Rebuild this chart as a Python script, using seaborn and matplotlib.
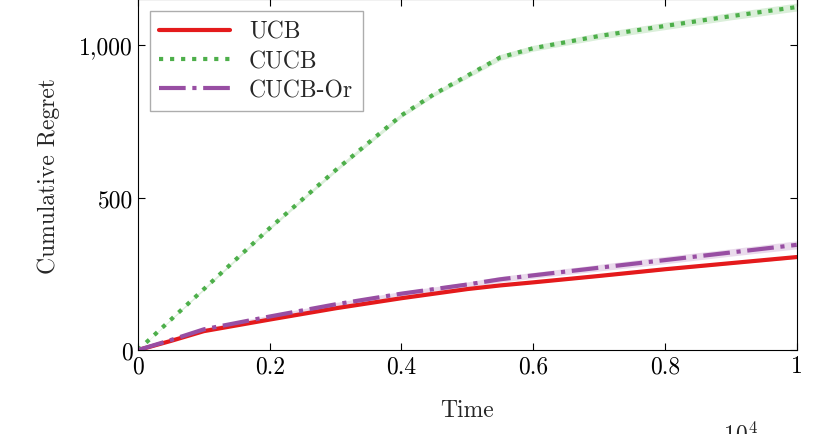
import numpy as np
import pandas as pd
import matplotlib
matplotlib.use("Agg")
import matplotlib.pyplot as plt
import seaborn as sns
from matplotlib.ticker import FuncFormatter

sns.set_style("ticks")
plt.rcParams['font.family'] = ['cmr10', 'DejaVu Serif']
plt.rcParams['mathtext.fontset'] = 'cm'
plt.rcParams['axes.formatter.use_mathtext'] = True

time = [0, 0.05, 0.1, 0.2, 0.3, 0.4, 0.45, 0.5, 0.55, 0.6, 0.7, 0.8, 0.9, 1.0]
ucb = [0, 30, 62, 100, 137, 170, 185, 200, 212, 222, 243, 265, 285, 305]
cucb = [0, 100, 200, 400, 590, 770, 840, 900, 960, 990, 1030, 1063, 1095, 1125]
cucb_or = [0, 33, 68, 110, 150, 185, 200, 215, 232, 245, 270, 295, 320, 345]
band = [0, 2, 3, 4, 5, 6, 6, 7, 8, 8, 9, 10, 10, 11]

fig = plt.figure(figsize=(8.29, 4.35), dpi=100)
ax = fig.add_axes([0.1665, 0.193, 0.7945, 0.806])

series = [("UCB", ucb, "#e41a1c", "-"), ("CUCB", cucb, "#4daf4a", ":"),
          ("CUCB-Or", cucb_or, "#984ea3", "-.")]
for name, vals, col, ls in series:
    df = pd.DataFrame({"t": time, "v": vals})
    v = np.array(vals)
    b = np.array(band) * (1.2 if name != "UCB" else 0.4)
    ax.fill_between(time, v - b, v + b, color=col, alpha=0.2, lw=0)
    sns.lineplot(data=df, x="t", y="v", ax=ax, color=col, lw=3,
                 linestyle=ls, label=name)

ax.set_xlim(0, 1)
ax.set_ylim(0, 1150)
ax.set_xticks([0, 0.2, 0.4, 0.6, 0.8, 1])
ax.set_xticklabels(["0", "0.2", "0.4", "0.6", "0.8", "1"])
ax.set_yticks([0, 500, 1000])
ax.yaxis.set_major_formatter(FuncFormatter(lambda x, p: f"{int(x):,}"))
ax.tick_params(direction="in", labelsize=17, top=True, right=True, length=5, colors="black")
ax.set_xlabel("Time", fontsize=17, labelpad=16)
ax.set_ylabel("Cumulative Regret", fontsize=17, labelpad=14)
ax.text(0.91, -0.24, r"$\cdot 10^4$", transform=ax.transAxes, fontsize=17, ha="center", va="center")
for s in ax.spines.values():
    s.set_linewidth(0.8)
    s.set_color("black")
leg = ax.legend(loc="upper left", fontsize=17, fancybox=False, edgecolor="#999999",
                handlelength=3, borderaxespad=0.5, labelspacing=0.3)
fig.savefig("out.png", dpi=100)
